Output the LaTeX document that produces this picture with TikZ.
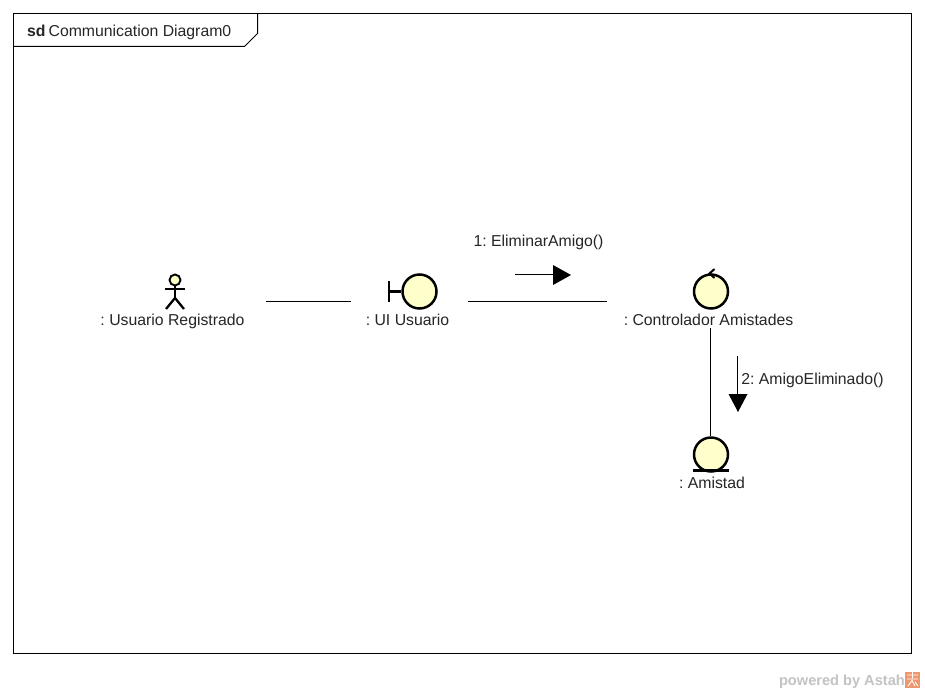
\documentclass[tikz,border=0pt]{standalone}
\usepackage{fontspec}
\setmainfont{Liberation Sans}
\definecolor{lifefill}{RGB}{255,255,204}
\definecolor{astahorange}{RGB}{238,150,110}
\definecolor{astahgray}{RGB}{195,195,195}
\tikzset{
  lbl/.style={inner sep=0pt,font=\fontsize{15.8}{18}\selectfont\frenchspacing,text=black!85},
  robust/.style={circle,draw=black,fill=lifefill,line width=2.5pt,minimum size=34pt,inner sep=0pt},
  link/.style={draw=black,line width=1.2pt},
  msg/.style={draw=black,line width=1.2pt},
  tip/.style={fill=black,draw=none},
  stick/.style={draw=black,line width=2.3pt},
}
\begin{document}
\begin{tikzpicture}[x=1pt,y=-1pt]
\useasboundingbox (0,0) rectangle (925,693);
\fill[white] (0,0) rectangle (925,693);
% frame
\draw[black,line width=1pt] (13.5,13.5) rectangle (911.5,653.5);
\draw[black,line width=1pt] (13.5,46.5) -- (244.5,46.5) -- (257.5,33.5) -- (257.5,13.5);
\node[lbl,anchor=base west] (frametitle) at (27,37) {\textbf{sd}\hspace{3pt}Communication Diagram0};
% actor
\node[circle,draw=black,fill=lifefill,line width=1.9pt,minimum size=11pt,inner sep=0pt] (actorhead) at (175,280) {};
\coordinate (hip) at (175,298);
\coordinate (lefthand) at (165,289);
\coordinate (righthand) at (185,289);
\coordinate (leftfoot) at (166,309);
\coordinate (rightfoot) at (184,309);
\draw[stick] (actorhead.south) -- (hip);
\draw[stick] (lefthand) -- (righthand);
\draw[stick] (leftfoot) -- (hip) -- (rightfoot);
\node[lbl,anchor=base] (actorlabel) at (172.5,325) {: Usuario Registrado};
% boundary
\node[robust] (ui) at (419.5,291.5) {};
\coordinate (barTop) at (389,281);
\coordinate (barBot) at (389,302);
\coordinate (barMid) at (389,291.5);
\draw[stick,line width=2.5pt] (barTop) -- (barBot);
\draw[stick,line width=2.5pt] (barMid) -- (ui.west);
\node[lbl,anchor=base] (uilabel) at (407.5,325) {: UI Usuario};
% control
\node[robust] (ctrl) at (711,291.5) {};
\coordinate (chevA) at (714.5,269);
\coordinate (chevB) at (709.5,273.5);
\coordinate (chevC) at (714.5,278);
\draw[black,line width=2pt] (chevA) -- (chevB) -- (chevC);
\node[lbl,anchor=base] (ctrllabel) at (708.5,325) {: Controlador Amistades};
% entity
\node[robust] (ent) at (711,454.5) {};
\coordinate (entL) at (693,470.5);
\coordinate (entR) at (729,470.5);
\draw[black,line width=2.2pt] (entL) -- (entR);
\node[lbl,anchor=base] (entlabel) at (712,488) {: Amistad};
% links
\coordinate (l1a) at (266,301.5);
\coordinate (l1b) at (351,301.5);
\coordinate (l2a) at (468,301.5);
\coordinate (l2b) at (607,301.5);
\draw[link] (l1a) -- (l1b);
\draw[link] (l2a) -- (l2b);
\coordinate (ctrltail) at (710.5,328);
\draw[link] (ctrltail) -- (ctrltail |- ent.north);
% message 1
\coordinate (m1s) at (515,274.5);
\coordinate (m1e) at (553,274.5);
\draw[msg] (m1s) -- (m1e);
\fill[tip] (553,265) -- (571,275) -- (553,285) -- cycle;
\node[lbl,anchor=base] (m1label) at (538.5,246) {1: EliminarAmigo()};
% message 2
\coordinate (m2s) at (737.5,356);
\coordinate (m2e) at (737.5,394);
\draw[msg] (m2s) -- (m2e);
\fill[tip] (728.5,394) -- (747.5,394) -- (738,412) -- cycle;
\node[lbl,anchor=base] (m2label) at (812.5,384) {2: AmigoEliminado()};
% watermark
\node[inner sep=0pt,anchor=base east,font=\fontsize{14.6}{16}\selectfont\bfseries,text=astahgray] (powered) at (905,685) {powered by Astah};
\fill[astahorange] (905,672) rectangle (920,688);
\draw[white,line width=0.9pt] (907,675) -- (918,675) (912.5,672) -- (912.5,678) (907,679) -- (918,679) (908,686) -- (912,680.5) -- (915,686) (915,682) -- (918,686);
\end{tikzpicture}
\end{document}
